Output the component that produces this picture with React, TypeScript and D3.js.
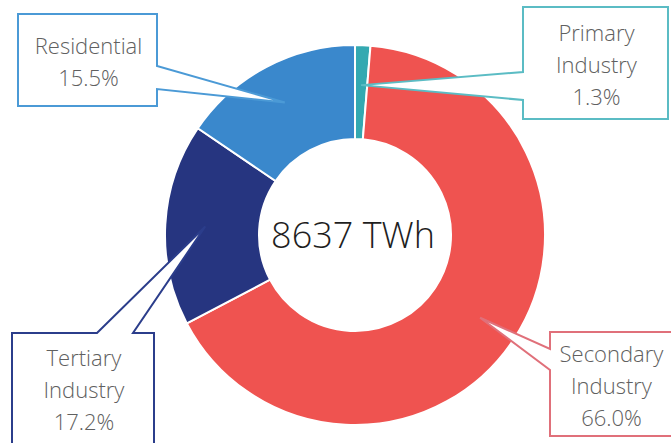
import * as d3 from 'd3';

// share of final electricity consumption, clockwise from 12 o'clock
const categories = ['Primary Industry', 'Secondary Industry', 'Tertiary Industry', 'Residential'];
const shares = [1.3, 66.0, 17.2, 15.5];
const totalLabel = '8637 TWh';
const labelLines = [
  ['Primary', 'Industry'],
  ['Secondary', 'Industry'],
  ['Tertiary', 'Industry'],
  ['Residential'],
];

const sliceColors = ['#34a9b1', '#ef5350', '#263580', '#3a88cc'];
const boxColors = ['#5bbcc4', '#e0707a', '#2b3d8b', '#4b9ad6'];

// callout box geometry: rectangle + side where the pointer leaves + pointer base
const callouts = [
  { x0: 523, y0: 7, x1: 668, y1: 119, side: 'left', a0: 72, a1: 100 },
  { x0: 550, y0: 332, x1: 674, y1: 436, side: 'left', a0: 349, a1: 370 },
  { x0: 12, y0: 333, x1: 154, y1: 446, side: 'top', a0: 97, a1: 133 },
  { x0: 18, y0: 14, x1: 157, y1: 106, side: 'right', a0: 66, a1: 89 },
];

const W = 671;
const H = 443;
const cx = 355;
const cy = 235;
const outerR = 190;
const innerR = 96;
const tipR = 150;

function calloutPath(c: (typeof callouts)[number], tx: number, ty: number) {
  const { x0, y0, x1, y1, a0, a1 } = c;
  const p = d3.path();
  if (c.side === 'top') {
    p.moveTo(x0, y0);
    p.lineTo(a0, y0);
    p.lineTo(tx, ty);
    p.lineTo(a1, y0);
    p.lineTo(x1, y0);
    p.lineTo(x1, y1);
    p.lineTo(x0, y1);
  } else if (c.side === 'right') {
    p.moveTo(x0, y0);
    p.lineTo(x1, y0);
    p.lineTo(x1, a0);
    p.lineTo(tx, ty);
    p.lineTo(x1, a1);
    p.lineTo(x1, y1);
    p.lineTo(x0, y1);
  } else {
    p.moveTo(x0, y0);
    p.lineTo(x1, y0);
    p.lineTo(x1, y1);
    p.lineTo(x0, y1);
    p.lineTo(x0, a1);
    p.lineTo(tx, ty);
    p.lineTo(x0, a0);
  }
  p.closePath();
  return p.toString();
}

export default function App() {
  const pie = d3
    .pie<number>()
    .sort(null)
    .startAngle(0)
    .endAngle(2 * Math.PI);
  const arcs = pie(shares);
  const arc = d3.arc<d3.PieArcDatum<number>>().innerRadius(innerR).outerRadius(outerR);

  const font = "'Open Sans', 'Noto Sans', sans-serif";

  return (
    <svg
      width={W}
      height={H}
      style={{ position: 'absolute', left: 0, top: 0, background: '#fff' }}
      fontFamily={font}
      fontWeight={300}
    >
      <g transform={`translate(${cx},${cy})`}>
        {arcs.map((a, i) => (
          <path key={categories[i]} d={arc(a) || ''} fill={sliceColors[i]} stroke="#fff" strokeWidth={2} />
        ))}
      </g>
      <text x={cx - 2} y={cy - 1} textAnchor="middle" dominantBaseline="central" fontSize={36} fill="#1e1e1e">
        {totalLabel}
      </text>
      {arcs.map((a, i) => {
        const c = callouts[i];
        const mid = (a.startAngle + a.endAngle) / 2;
        const tx = cx + tipR * Math.sin(mid);
        const ty = cy - tipR * Math.cos(mid);
        const lines = [...labelLines[i], `${shares[i].toFixed(1)}%`];
        const lh = 32;
        const midY = (c.y0 + Math.min(c.y1, H)) / 2 + 1;
        const startY = midY - ((lines.length - 1) * lh) / 2;
        return (
          <g key={categories[i]}>
            <path d={calloutPath(c, tx, ty)} fill="#fff" stroke={boxColors[i]} strokeWidth={2} />
            {lines.map((t, j) => (
              <text
                key={j}
                x={(c.x0 + Math.min(c.x1, W)) / 2 + 1}
                y={startY + j * lh}
                textAnchor="middle"
                dominantBaseline="central"
                fontSize={22}
                fill="#606060"
              >
                {t}
              </text>
            ))}
          </g>
        );
      })}
    </svg>
  );
}
